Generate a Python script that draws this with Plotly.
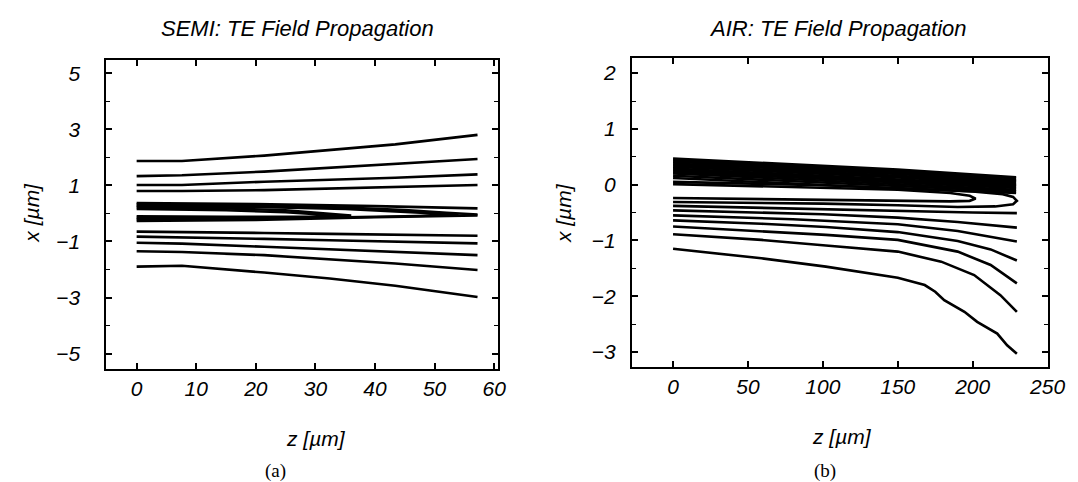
import plotly.graph_objects as go

# ---------------- data: SEMI panel (a) ----------------
SEMI_Z = [0, 7.6, 21.4, 32.4, 43.4, 57.2]
SEMI_S1 = [1.87, 1.87, 2.06, 2.26, 2.46, 2.80]
SEMI_S2 = [1.33, 1.36, 1.49, 1.63, 1.76, 1.94]
SEMI_S3 = [1.01, 1.01, 1.13, 1.20, 1.27, 1.39]
SEMI_S4 = [0.80, 0.80, 0.83, 0.89, 0.95, 1.01]
SEMI_S6 = [-0.65, -0.66, -0.70, -0.73, -0.76, -0.80]
SEMI_S7 = [-0.83, -0.85, -0.91, -0.96, -1.01, -1.07]
SEMI_S8 = [-1.05, -1.08, -1.19, -1.28, -1.37, -1.49]
SEMI_S9 = [-1.35, -1.38, -1.49, -1.64, -1.79, -2.02]
SEMI_S10 = [-1.90, -1.87, -2.11, -2.32, -2.58, -2.98]

SEMI_T_Z = [0, 20, 40, 57.2]
SEMI_T_X = [0.37, 0.33, 0.26, 0.18]
SEMI_U_Z = [0, 20, 35, 45, 52, 57.2]
SEMI_U_X = [0.32, 0.28, 0.21, 0.12, 0.02, -0.04]
SEMI_I1_Z = [0, 15, 25, 32, 35.4, 32, 25, 15, 0]
SEMI_I1_X = [0.16, 0.11, 0.04, -0.05, -0.10, -0.12, -0.13, -0.12, -0.10]
SEMI_I2_Z = [0, 15, 25, 32, 36, 32, 25, 15, 0]
SEMI_I2_X = [0.22, 0.18, 0.11, 0.00, -0.08, -0.14, -0.17, -0.17, -0.16]
SEMI_O_Z = [0, 20, 35, 45, 51, 54, 51, 45, 35, 20, 0]
SEMI_O_X = [0.27, 0.23, 0.16, 0.07, -0.01, -0.06, -0.08, -0.10, -0.14, -0.19, -0.21]
SEMI_L_Z = [0, 20, 40, 57.2]
SEMI_L_X = [-0.27, -0.23, -0.14, -0.07]

# ---------------- data: AIR panel (b) ----------------
AIR_BAND_Z = [0, 150, 229]
AIR_BAND_START = [0.47, 0.44, 0.41, 0.38, 0.35, 0.32, 0.29, 0.26, 0.23, 0.20, 0.16, 0.12]
AIR_BAND_MID = [0.27, 0.25, 0.22, 0.19, 0.16, 0.13, 0.10, 0.07, 0.04, 0.01, -0.03, -0.07]
AIR_BAND_END = [0.13, 0.11, 0.08, 0.06, 0.04, 0.01, -0.01, -0.03, -0.06, -0.09, -0.12, -0.15]

AIR_I_Z = [0, 100, 150, 185, 198, 202, 198, 185, 150, 100, 0]
AIR_I_X = [0.01, -0.05, -0.09, -0.15, -0.20, -0.25, -0.29, -0.30, -0.29, -0.27, -0.24]
AIR_O_Z = [0, 100, 150, 200, 220, 227, 229.5, 227, 215, 190, 150, 100, 0]
AIR_O_X = [0.05, -0.01, -0.06, -0.12, -0.17, -0.22, -0.29, -0.35, -0.39, -0.40, -0.37, -0.34, -0.31]

AIR_L1_Z = [0, 100, 150, 200, 229.5]
AIR_L1_X = [-0.38, -0.44, -0.48, -0.50, -0.51]
AIR_L2_Z = [0, 100, 150, 190, 229.5]
AIR_L2_X = [-0.46, -0.53, -0.59, -0.67, -0.77]
AIR_L3_Z = [0, 80, 150, 190, 229.5]
AIR_L3_X = [-0.55, -0.62, -0.71, -0.83, -1.02]
AIR_L4_Z = [0, 59, 102, 150, 190, 212, 229.5]
AIR_L4_X = [-0.64, -0.70, -0.76, -0.85, -1.01, -1.16, -1.36]
AIR_L5_Z = [0, 59, 102, 150, 190, 212, 229.5]
AIR_L5_X = [-0.75, -0.83, -0.90, -0.99, -1.20, -1.44, -1.77]
AIR_L6_Z = [0, 59, 102, 150, 179, 201, 218.5, 229.5]
AIR_L6_X = [-0.89, -0.99, -1.09, -1.20, -1.38, -1.62, -1.98, -2.28]
AIR_L7_Z = [0, 59, 102, 150, 168, 175, 181, 194.5, 203, 216.4, 223, 229.5]
AIR_L7_X = [-1.15, -1.32, -1.47, -1.67, -1.80, -1.92, -2.07, -2.28, -2.46, -2.67, -2.88, -3.03]

# tick labels
SEMI_XTICKS = [0, 10, 20, 30, 40, 50, 60]
SEMI_YTICKS = [-5, -3, -1, 1, 3, 5]
AIR_XTICKS = [0, 50, 100, 150, 200, 250]
AIR_YTICKS = [-3, -2, -1, 0, 1, 2]

FONT = "Liberation Sans, Arial, sans-serif"
SERIF = "Liberation Serif, Times New Roman, serif"
LINE = dict(color="black", width=2.6)

fig = go.Figure()

def add(z, x, ax):
    fig.add_trace(go.Scatter(x=z, y=x, mode="lines", line=LINE, showlegend=False,
                             xaxis="x" if ax == 1 else "x2", yaxis="y" if ax == 1 else "y2",
                             hoverinfo="skip"))

for s in [SEMI_S1, SEMI_S2, SEMI_S3, SEMI_S4, SEMI_S6, SEMI_S7, SEMI_S8, SEMI_S9, SEMI_S10]:
    add(SEMI_Z, s, 1)
for z, x in [(SEMI_T_Z, SEMI_T_X), (SEMI_U_Z, SEMI_U_X), (SEMI_I1_Z, SEMI_I1_X),
             (SEMI_I2_Z, SEMI_I2_X), (SEMI_O_Z, SEMI_O_X), (SEMI_L_Z, SEMI_L_X)]:
    add(z, x, 1)

for a, b, c in zip(AIR_BAND_START, AIR_BAND_MID, AIR_BAND_END):
    add(AIR_BAND_Z, [a, b, c], 2)
for z, x in [(AIR_I_Z, AIR_I_X), (AIR_O_Z, AIR_O_X), (AIR_L1_Z, AIR_L1_X), (AIR_L2_Z, AIR_L2_X),
             (AIR_L3_Z, AIR_L3_X), (AIR_L4_Z, AIR_L4_X), (AIR_L5_Z, AIR_L5_X),
             (AIR_L6_Z, AIR_L6_X), (AIR_L7_Z, AIR_L7_X)]:
    add(z, x, 2)

W, H = 1078, 482
tickfont = dict(family=FONT, size=21, color="black", style="italic")

def axis(**kw):
    base = dict(showline=True, linecolor="black", linewidth=2, mirror="allticks",
                ticks="inside", ticklen=6, tickwidth=1.6, tickcolor="black",
                showgrid=False, zeroline=False, tickfont=tickfont)
    base.update(kw)
    return base

fig.update_layout(
    width=W, height=H, margin=dict(l=0, r=0, t=0, b=0),
    paper_bgcolor="white", plot_bgcolor="white",
    xaxis=axis(domain=[100 / W, 498 / W], range=[-5.07, 60.66], tickvals=SEMI_XTICKS,
               anchor="y", ticklabelstandoff=0),
    yaxis=axis(domain=[1 - 361 / H, 1 - 52 / H], range=[-5.55, 5.47], tickvals=SEMI_YTICKS,
               anchor="x", ticklabelstandoff=20,
               minor=dict(dtick=1, tick0=0, ticks="inside", ticklen=4, tickcolor="black", tickwidth=1.2)),
    xaxis2=axis(domain=[634 / W, 1057 / W], range=[-27.4, 250.5], tickvals=AIR_XTICKS,
                anchor="y2", ticklabelstandoff=0),
    yaxis2=axis(domain=[1 - 358.5 / H, 1 - 49.5 / H], range=[-3.26, 2.28], tickvals=AIR_YTICKS,
                anchor="x2", ticklabelstandoff=10,
                minor=dict(dtick=0.5, tick0=0, ticks="inside", ticklen=4, tickcolor="black", tickwidth=1.2)),
)

def ann(text, x, y, size, family=FONT, italic=True, angle=0):
    fig.add_annotation(text=text, x=x / W, y=1 - y / H, xref="paper", yref="paper",
                       showarrow=False, textangle=angle, xanchor="center", yanchor="middle",
                       font=dict(family=family, size=size, color="black",
                                 style="italic" if italic else "normal"))

ann("SEMI: TE Field Propagation", 294, 21, 22)
ann("AIR: TE Field Propagation", 843, 21, 22)
ann("z [µm]", 313, 430, 21)
ann("z [µm]", 847, 428, 21)
ann("x [µm]", 23, 205, 21, angle=-90)
ann("x [µm]", 564, 205, 21, angle=-90)
ann("(a)", 272, 463, 19, family=SERIF, italic=False)
ann("(b)", 830, 463, 19, family=SERIF, italic=False)

fig.write_html("out.html")
